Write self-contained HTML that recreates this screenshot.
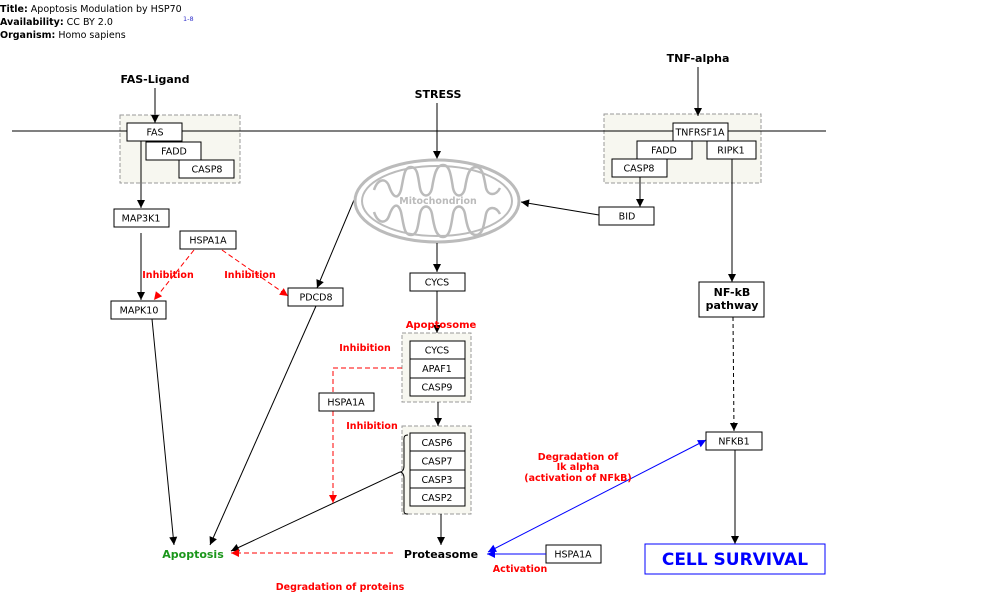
<!DOCTYPE html>
<html><head><meta charset="utf-8"><style>
body{margin:0;background:#fff;}
svg{display:block;font-family:"DejaVu Sans","Liberation Sans",sans-serif;}
.b{fill:#fff;stroke:#000;stroke-width:1;}
.t{font-size:9.5px;text-anchor:middle;}
.r{font-size:9.5px;font-weight:bold;fill:#f00;text-anchor:middle;}
.g{fill:#f7f7f0;stroke:#999;stroke-dasharray:4,2;}
</style></head><body>
<svg width="1000" height="608" viewBox="0 0 1000 608" xmlns="http://www.w3.org/2000/svg">
<defs>
<marker id="a" markerWidth="10" markerHeight="10" refX="9" refY="5" orient="auto" markerUnits="userSpaceOnUse"><path d="M1,1L9,5L1,9z" fill="#000"/></marker>
<marker id="ar" markerWidth="10" markerHeight="10" refX="9" refY="5" orient="auto" markerUnits="userSpaceOnUse"><path d="M1,1L9,5L1,9z" fill="#f00"/></marker>
<marker id="ab" markerWidth="10" markerHeight="10" refX="9" refY="5" orient="auto" markerUnits="userSpaceOnUse"><path d="M1,1L9,5L1,9z" fill="#00f"/></marker>
<marker id="abs" markerWidth="10" markerHeight="10" refX="9" refY="5" orient="auto-start-reverse" markerUnits="userSpaceOnUse"><path d="M1,1L9,5L1,9z" fill="#00f"/></marker>
</defs>
<text x="0" y="12" font-size="9.5"><tspan font-weight="bold">Title:</tspan>  Apoptosis Modulation by HSP70</text>
<text x="0" y="25" font-size="9.5"><tspan font-weight="bold">Availability:</tspan>  CC BY 2.0</text>
<text x="183" y="21" font-size="6.5" fill="#33c">1-8</text>
<text x="0" y="38" font-size="9.5"><tspan font-weight="bold">Organism:</tspan>  Homo sapiens</text>

<rect class="g" x="120" y="115" width="120" height="68"/>
<rect class="g" x="604" y="114" width="157" height="69"/>
<rect class="g" x="402" y="333" width="69" height="69"/>
<rect class="g" x="402" y="426" width="69" height="88"/>
<line x1="12" y1="131" x2="826" y2="131" stroke="#000"/>

<text x="155" y="83" font-size="11" font-weight="bold" text-anchor="middle">FAS-Ligand</text>
<line x1="155" y1="88" x2="155" y2="123" stroke="#000" marker-end="url(#a)"/>
<rect class="b" x="127" y="123" width="55" height="18"/><text class="t" x="155" y="135.5">FAS</text>
<rect class="b" x="146" y="142" width="55" height="18"/><text class="t" x="174" y="154.5">FADD</text>
<rect class="b" x="179" y="160" width="55" height="18"/><text class="t" x="207" y="172.5">CASP8</text>
<line x1="141" y1="141" x2="141" y2="208" stroke="#000" marker-end="url(#a)"/>
<rect class="b" x="114" y="209" width="55" height="18"/><text class="t" x="141" y="221.5">MAP3K1</text>
<line x1="141" y1="233" x2="141" y2="300" stroke="#000" marker-end="url(#a)"/>
<rect class="b" x="111" y="301" width="55" height="18"/><text class="t" x="139" y="313.5">MAPK10</text>
<rect class="b" x="180" y="231" width="56" height="18"/><text class="t" x="208" y="243.5">HSPA1A</text>
<line x1="194" y1="250" x2="154" y2="300" stroke="#f00" stroke-dasharray="5,3" marker-end="url(#ar)"/>
<line x1="222" y1="250" x2="288" y2="296" stroke="#f00" stroke-dasharray="5,3" marker-end="url(#ar)"/>
<text class="r" x="168" y="278">Inhibition</text>
<text class="r" x="250" y="278">Inhibition</text>
<rect class="b" x="288" y="288" width="55" height="18"/><text class="t" x="316" y="300.5">PDCD8</text>
<line x1="354" y1="200" x2="317" y2="288" stroke="#000" marker-end="url(#a)"/>
<line x1="152" y1="319" x2="174" y2="545" stroke="#000" marker-end="url(#a)"/>
<line x1="316" y1="306" x2="210" y2="545" stroke="#000" marker-end="url(#a)"/>

<text x="438" y="98" font-size="11" font-weight="bold" text-anchor="middle">STRESS</text>
<line x1="437" y1="103" x2="437" y2="159" stroke="#000" marker-end="url(#a)"/>
<ellipse cx="437" cy="201" rx="82" ry="41" fill="#fff" stroke="#bbb" stroke-width="3"/>
<ellipse cx="437" cy="201" rx="75" ry="35" fill="none" stroke="#bbb" stroke-width="2"/>
<path d="M374,190 C378,178 386,178 389,186 C393,198 398,200 401,190 C404,176 404,167 411,167 C418,167 418,178 420,188 C422,198 430,198 432,188 C434,176 436,165 443,165 C450,165 451,176 453,188 C455,198 463,198 465,188 C467,176 469,167 476,167 C483,167 484,178 486,188 C488,196 496,196 500,188" fill="none" stroke="#bbb" stroke-width="2.5"/>
<path d="M374,212 C378,224 386,224 389,216 C393,204 398,202 401,212 C404,226 404,235 411,235 C418,235 418,224 420,214 C422,204 430,204 432,214 C434,226 436,237 443,237 C450,237 451,226 453,214 C455,204 463,204 465,214 C467,226 469,235 476,235 C483,235 484,224 486,214 C488,206 496,206 500,214" fill="none" stroke="#bbb" stroke-width="2.5"/>
<text x="438" y="204" font-size="9.5" font-weight="bold" fill="#bbb" text-anchor="middle">Mitochondrion</text>
<rect class="b" x="599" y="207" width="55" height="18"/><text class="t" x="627" y="219.5">BID</text>
<line x1="599" y1="215" x2="521" y2="202" stroke="#000" marker-end="url(#a)"/>
<line x1="437" y1="243" x2="437" y2="272" stroke="#000" marker-end="url(#a)"/>
<rect class="b" x="410" y="273" width="55" height="18"/><text class="t" x="437" y="285.5">CYCS</text>
<line x1="437" y1="291" x2="437" y2="333" stroke="#000" marker-end="url(#a)"/>
<text x="441" y="328" font-size="10" font-weight="bold" fill="#f00" text-anchor="middle">Apoptosome</text>
<rect class="b" x="410" y="341" width="55" height="18"/><text class="t" x="437" y="353.5">CYCS</text>
<rect class="b" x="410" y="359" width="55" height="19"/><text class="t" x="437" y="372">APAF1</text>
<rect class="b" x="410" y="378" width="55" height="18"/><text class="t" x="437" y="390.5">CASP9</text>
<line x1="438" y1="402" x2="438" y2="426" stroke="#000" marker-end="url(#a)"/>
<rect class="b" x="410" y="433" width="55" height="18"/><text class="t" x="437" y="446">CASP6</text>
<rect class="b" x="410" y="451" width="55" height="19"/><text class="t" x="437" y="464.5">CASP7</text>
<rect class="b" x="410" y="470" width="55" height="18"/><text class="t" x="437" y="483">CASP3</text>
<rect class="b" x="410" y="488" width="55" height="18"/><text class="t" x="437" y="501">CASP2</text>
<path d="M408,435 C403,435 404,438 404,445 L404,466 C404,470 402,472 400,472 C402,472 404,474 404,478 L404,505 C404,512 403,514 408,514" fill="none" stroke="#000"/>
<line x1="400" y1="472" x2="231" y2="551" stroke="#000" marker-end="url(#a)"/>
<text class="r" x="365" y="351">Inhibition</text>
<polyline points="402,368 333,368 333,503" fill="none" stroke="#f00" stroke-dasharray="5,3" marker-end="url(#ar)"/>
<rect class="b" x="319" y="393" width="55" height="18"/><text class="t" x="346" y="405.5">HSPA1A</text>
<text class="r" x="372" y="429">Inhibition</text>
<line x1="441" y1="514" x2="441" y2="545" stroke="#000" marker-end="url(#a)"/>
<text x="441" y="558" font-size="11" font-weight="bold" text-anchor="middle">Proteasome</text>
<text x="193" y="558" font-size="11" font-weight="bold" fill="#1a961a" text-anchor="middle">Apoptosis</text>
<line x1="393" y1="553" x2="231" y2="553" stroke="#f00" stroke-dasharray="5,3" marker-end="url(#ar)"/>
<text class="r" x="340" y="590">Degradation of proteins</text>
<rect class="b" x="546" y="545" width="55" height="18"/><text class="t" x="573" y="557.5">HSPA1A</text>
<line x1="546" y1="554" x2="487" y2="554" stroke="#00f" marker-end="url(#ab)"/>
<text class="r" x="520" y="572">Activation</text>
<line x1="488" y1="552" x2="706" y2="440" stroke="#00f" marker-start="url(#abs)" marker-end="url(#ab)"/>
<text class="r" x="578" y="460">Degradation of</text>
<text class="r" x="578" y="470">Ik alpha</text>
<text class="r" x="578" y="481">(activation of NFkB)</text>

<text x="698" y="62" font-size="11" font-weight="bold" text-anchor="middle">TNF-alpha</text>
<line x1="698" y1="67" x2="698" y2="116" stroke="#000" marker-end="url(#a)"/>
<rect class="b" x="673" y="123" width="55" height="18"/><text class="t" x="700" y="135.5">TNFRSF1A</text>
<rect class="b" x="637" y="141" width="55" height="18"/><text class="t" x="664" y="153.5">FADD</text>
<rect class="b" x="707" y="141" width="49" height="18"/><text class="t" x="731" y="153.5">RIPK1</text>
<rect class="b" x="612" y="159" width="55" height="18"/><text class="t" x="639" y="171.5">CASP8</text>
<line x1="640" y1="177" x2="640" y2="207" stroke="#000" marker-end="url(#a)"/>
<line x1="732" y1="159" x2="732" y2="282" stroke="#000" marker-end="url(#a)"/>
<rect class="b" x="699" y="282" width="65" height="35"/>
<text x="732" y="296" font-size="11" font-weight="bold" text-anchor="middle">NF-kB</text>
<text x="732" y="309" font-size="11" font-weight="bold" text-anchor="middle">pathway</text>
<line x1="733" y1="317" x2="734" y2="431" stroke="#000" stroke-dasharray="4,3" marker-end="url(#a)"/>
<rect class="b" x="706" y="432" width="56" height="18"/><text class="t" x="734" y="444.5">NFKB1</text>
<line x1="735" y1="450" x2="735" y2="544" stroke="#000" marker-end="url(#a)"/>
<rect x="645" y="544" width="180" height="30" fill="#fff" stroke="#00f"/>
<text x="735" y="565" font-size="17" font-weight="bold" fill="#00f" text-anchor="middle">CELL SURVIVAL</text>
</svg>
</body></html>
